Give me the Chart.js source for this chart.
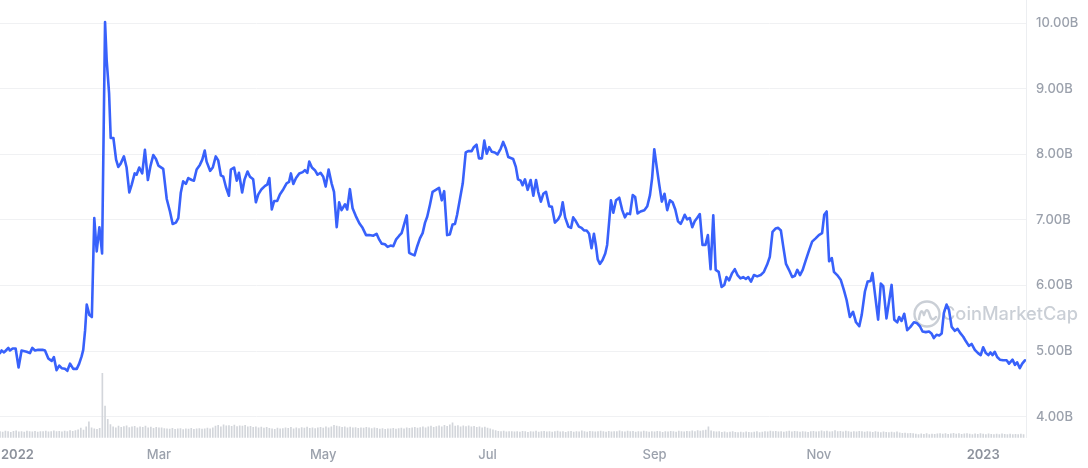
<!DOCTYPE html>
<html>
<head>
<meta charset="utf-8">
<script src="https://cdn.jsdelivr.net/npm/chart.js@4.4.1/dist/chart.umd.min.js"></script>
<style>
html,body{margin:0;padding:0;background:#fff;}
#wrap{width:1088px;height:468px;position:relative;}
</style>
</head>
<body>
<div id="wrap"><canvas id="c"></canvas></div>
<script>
// Days counted from 1 Jan 2022
const xTickDays = [0, 59, 120, 181, 243, 304, 365];
const xTickLabels = ['2022', 'Mar', 'May', 'Jul', 'Sep', 'Nov', '2023'];
const yTickValues = [4, 5, 6, 7, 8, 9, 10];
const yTickLabels = ['4.00B', '5.00B', '6.00B', '7.00B', '8.00B', '9.00B', '10.00B'];

// Market cap (billions USD): day offsets and values
const capDays = [
  0,0.6,1.5,2.2,3.1,3.7,4.7,5.8,6.9,8.0,
  9.9,11.1,12.0,13.0,14.2,15.8,16.7,17.9,19.2,20.0,
  21.0,22.0,22.9,24.1,25.0,26.0,27.2,28.5,29.4,30.3,
  30.9,31.6,32.2,33.2,34.1,35.0,35.9,36.9,37.9,39.0,
  39.6,40.5,41.1,42.1,43.1,43.9,44.8,46.0,47.0,48.0,
  48.9,50.0,50.7,51.7,52.8,53.8,54.9,55.9,56.9,57.9,
  58.8,60.6,61.9,63.1,64.1,
  65.3,66.2,67.1,68.0,69.0,69.9,71.2,72.0,73.0,74.2,
  75.1,76.0,76.7,78.0,79.0,80.1,81.0,82.0,82.9,83.9,
  85.0,85.7,86.9,87.9,88.7,89.9,90.8,91.9,92.8,94.0,
  95.0,95.9,97.1,98.4,99.2,100.0,100.9,101.8,102.9,103.9,
  105.2,106.4,107.3,108.0,108.9,109.9,111.1,112.4,113.2,114.1,
  114.8,115.8,116.9,117.9,119.0,120.0,120.9,122.0,123.1,124.0,
  125.0,125.9,126.8,
  128.1,128.9,129.9,130.9,132.1,133.4,134.6,135.9,137.1,138.6,
  139.8,140.8,141.7,142.9,143.9,145.0,146.0,147.0,148.2,149.1,
  150.0,151.0,151.9,152.8,153.9,154.9,155.9,156.9,157.8,158.6,
  159.6,160.6,161.8,163.0,164.0,164.9,166.0,167.0,168.0,168.9,
  169.7,170.7,171.8,172.9,173.8,175.1,175.9,176.9,177.8,178.9,
  179.8,180.7,181.6,182.6,183.7,184.7,185.9,186.8,187.8,188.7,
  190.5,191.5,192.3,193.3,194.0,194.9,195.9,197.0,198.0,199.0,
  199.8,200.8,201.7,202.7,203.9,204.9,206.0,207.2,208.1,208.9,
  209.8,211.0,212.0,212.8,213.8,214.9,215.9,216.8,217.8,218.7,
  219.6,220.5,221.2,221.9,222.7,223.7,224.7,225.4,226.2,226.8,
  227.7,228.7,229.9,231.0,232.0,232.8,233.9,234.9,235.8,236.7,
  237.8,239.2,240.3,241.3,242.1,242.9,243.8,244.7,245.7,246.7,
  247.7,248.7,249.7,250.7,251.7,252.7,
  253.4,254.2,255.1,256.1,257.0,257.9,258.8,259.8,260.8,261.9,
  262.8,263.8,264.8,265.7,266.8,267.9,268.9,269.7,270.7,271.8,
  272.8,273.8,274.9,275.9,276.9,277.8,278.8,279.9,281.1,282.4,
  283.6,284.8,285.8,286.8,287.9,288.9,289.9,290.8,291.8,292.9,
  294.1,295.1,296.0,297.0,298.0,299.1,300.3,301.5,302.8,304.0,
  305.2,306.0,306.9,307.8,308.8,309.6,310.8,312.1,313.3,314.3,
  315.5,
  316.7,317.8,319.0,319.9,321.1,322.1,323.2,323.9,324.8,326.0,
  327.0,327.9,329.1,331.0,332.0,333.1,333.8,334.7,335.7,336.8,
  338.0,339.3,340.3,341.5,342.5,343.7,344.9,345.8,346.7,347.7,
  348.7,349.6,350.4,351.4,352.3,353.3,354.5,355.5,356.6,357.6,
  358.6,359.7,360.7,361.9,363.1,364.1,365.0,366.0,366.9,367.7,
  368.5,369.3,370.2,371.2,372.4,373.7,374.6,375.9,376.8,377.6,
  378.6,379.5,380.5
];
const capValues = [
  4.97,5.01,4.98,5.01,5.05,5.01,5.04,5.04,4.75,5.01,
  4.99,4.97,5.05,5.01,5.02,5.02,5.01,4.89,4.85,4.91,
  4.71,4.78,4.74,4.73,4.70,4.81,4.73,4.73,4.81,4.92,
  5.02,5.32,5.71,5.55,5.52,7.03,6.52,6.89,6.49,10.02,
  9.44,8.93,8.25,8.25,7.92,7.81,7.86,7.97,7.80,7.42,
  7.54,7.71,7.69,7.80,7.71,8.07,7.61,7.83,7.99,7.93,
  7.83,7.78,7.32,7.13,6.94,
  6.96,7.03,7.41,7.59,7.55,7.64,7.61,7.60,7.77,7.84,
  7.92,8.06,7.89,7.75,7.80,7.97,7.91,7.68,7.66,7.50,
  7.37,7.77,7.80,7.60,7.72,7.42,7.62,7.74,7.66,7.62,
  7.27,7.39,7.47,7.52,7.54,7.64,7.16,7.29,7.29,7.39,
  7.47,7.56,7.58,7.71,7.55,7.64,7.71,7.73,7.76,7.72,
  7.89,7.80,7.76,7.69,7.72,7.66,7.51,7.77,7.56,7.43,
  6.89,7.27,7.15,
  7.24,7.16,7.47,7.18,7.06,6.95,6.88,6.77,6.77,6.76,
  6.79,6.70,6.64,6.63,6.59,6.61,6.60,6.70,6.76,6.80,
  6.93,7.07,6.50,6.48,6.46,6.60,6.72,6.80,6.96,7.05,
  7.23,7.43,7.46,7.49,7.30,7.44,6.77,6.78,6.93,6.94,
  7.08,7.31,7.56,8.03,8.05,8.05,8.11,8.15,7.94,7.94,
  8.21,8.01,8.11,8.04,8.03,8.00,8.09,8.19,8.09,7.96,
  7.93,7.81,7.62,7.60,7.53,7.62,7.46,7.61,7.37,7.61,
  7.43,7.28,7.40,7.43,7.21,7.20,6.96,7.01,7.08,7.27,
  7.04,6.90,6.88,7.04,6.98,6.90,6.88,6.84,6.84,6.79,
  6.57,6.79,6.62,6.40,6.33,6.39,6.49,6.62,7.00,7.30,
  7.11,7.30,7.34,7.15,7.04,7.10,7.09,7.38,7.35,7.10,
  7.13,7.15,7.21,7.38,7.64,8.08,7.81,7.55,7.28,7.40,
  7.15,7.30,7.27,7.16,6.98,6.94,
  7.00,7.08,7.01,7.03,6.89,6.98,7.03,7.09,6.62,6.62,
  6.77,6.25,7.07,6.24,6.21,5.98,6.01,6.13,6.08,6.19,
  6.25,6.16,6.11,6.13,6.10,6.13,6.06,6.16,6.14,6.16,
  6.21,6.32,6.44,6.82,6.87,6.88,6.84,6.59,6.33,6.24,
  6.13,6.15,6.24,6.16,6.24,6.38,6.53,6.67,6.72,6.77,
  6.80,7.08,7.13,6.37,6.42,6.21,6.16,6.09,5.93,5.78,
  5.52,
  5.60,5.44,5.38,5.55,5.91,6.06,6.07,6.19,5.88,5.48,
  6.03,5.99,5.50,6.01,5.48,5.44,5.52,5.46,5.57,5.32,
  5.37,5.44,5.43,5.38,5.30,5.29,5.30,5.27,5.20,5.25,
  5.24,5.27,5.58,5.71,5.63,5.37,5.31,5.34,5.27,5.22,
  5.15,5.08,5.11,5.02,4.97,4.94,5.06,4.97,4.94,4.98,
  4.94,4.99,4.91,4.87,4.86,4.86,4.81,4.87,4.79,4.83,
  4.74,4.81,4.86
];

// Daily volume (billions USD, estimated), one value per day from day 0
const volumeValues = [
  0.30,0.28,0.33,0.30,0.27,0.32,0.34,0.29,0.31,0.28,0.33,0.30,0.29,0.32,0.28,0.31,0.30,0.33,0.29,0.31,
  0.34,0.30,0.32,0.29,0.33,0.31,0.35,0.32,0.36,
  0.40,0.48,0.38,0.55,0.80,0.50,0.45,0.42,0.47,
  3.22,1.58,0.92,0.66,
  0.55,0.50,0.58,0.52,0.56,0.60,0.51,0.54,0.57,0.49,0.55,0.52,0.58,0.50,0.53,0.47,0.52,0.49,0.50,0.46,
  0.45,0.43,0.47,0.42,0.44,0.46,0.41,0.45,0.43,0.47,0.42,0.44,0.46,0.43,0.45,0.48,0.44,0.50,
  0.58,0.62,0.55,0.64,0.59,0.61,0.57,0.63,0.56,0.60,0.58,0.62,0.55,0.57,0.52,0.55,0.50,0.53,0.48,0.52,0.47,
  0.45,0.42,0.48,0.44,0.46,0.50,0.47,0.52,0.45,0.49,0.46,0.51,0.48,0.53,0.47,0.50,0.46,0.49,0.52,0.48,0.55,0.50,0.54,0.62,0.58,
  0.56,0.52,0.55,0.50,0.53,0.49,0.51,0.47,0.50,0.48,0.52,0.49,0.46,0.50,0.47,
  0.43,0.46,0.42,0.45,0.44,0.47,0.43,0.46,0.48,0.45,0.50,0.47,0.49,0.52,0.48,0.51,0.55,0.50,
  0.54,0.58,0.52,0.56,0.60,0.55,0.62,0.57,0.64,0.75,0.58,0.61,0.55,0.59,0.56,0.60,0.54,0.57,0.52,0.55,0.50,0.53,
  0.48,0.45,0.40,0.35,0.32,0.30,0.33,0.29,0.31,0.30,
  0.29,0.31,0.28,0.32,0.30,0.27,0.31,0.29,0.33,0.28,
  0.30,0.32,0.29,0.31,0.28,0.30,0.33,0.29,0.31,0.27,
  0.30,0.32,0.28,0.31,0.29,0.34,0.30,0.28,0.32,0.30,
  0.29,0.31,0.33,0.30,0.28,0.32,0.29,0.31,0.30,0.34,
  0.31,0.29,0.33,0.30,0.32,0.28,0.31,0.29,0.33,0.30,
  0.28,0.31,0.29,0.32,0.30,0.27,0.31,0.29,0.32,0.30,
  0.28,0.33,0.31,0.29,0.32,0.30,0.34,0.31,0.36,0.33,
  0.35,0.38,
  0.55,
  0.34,0.31,0.29,0.30,0.27,0.29,0.26,0.28,0.30,0.27,
  0.25,0.28,0.26,0.29,0.27,0.25,0.28,0.30,0.26,0.28,
  0.31,0.29,0.33,0.30,0.32,0.29,0.31,0.28,0.30,0.33,
  0.29,0.32,0.30,0.28,0.31,0.29,0.27,0.30,0.32,0.29,
  0.31,0.34,0.30,0.33,0.29,0.31,0.35,0.30,0.32,0.29,
  0.33,0.30,0.28,0.31,0.29,0.32,0.30,0.28,0.31,0.29,
  0.27,0.30,0.28,0.26,0.29,0.27,0.25,0.28,0.26,0.29,
  0.24,0.22,0.23,0.21,0.22,0.20,
  0.18,0.16,0.19,0.17,0.20,0.16,0.18,0.17,0.19,0.21,
  0.18,0.20,0.17,0.19,0.22,0.18,0.20,0.17,0.19,0.21,
  0.18,0.16,0.19,0.17,0.20,0.18,0.16,0.19,0.17,0.15,
  0.18,0.16,0.19,0.17,0.15,0.18,0.16,0.17,0.15,0.18,
  0.16
];

const LINE_COLOR = '#3861fb';
const TICK_COLOR = '#9ba1ac';
const GRID_COLOR = '#f0f1f3';

const capData = capDays.map((d, i) => ({ x: d, y: capValues[i] }));
const volData = volumeValues.map((v, i) => ({ x: i, y: v }));

const xLabelsPlugin = {
  id: 'xLabels',
  afterDraw(chart) {
    const ctx = chart.ctx;
    const xs = chart.scales.x;
    const area = chart.chartArea;
    ctx.save();
    ctx.textBaseline = 'middle';
    ctx.textAlign = 'left';
    xTickDays.forEach((d, i) => {
      const label = xTickLabels[i];
      const isYear = /^\d{4}$/.test(label);
      ctx.font = (isYear ? '600 ' : '500 ') + '13px Inter, "Noto Sans", sans-serif';
      ctx.fillStyle = isYear ? '#8d929c' : TICK_COLOR;
      const w = ctx.measureText(label).width;
      let left = xs.getPixelForValue(d) - w / 2;
      if (left < 1) left = 1;
      if (left + w > area.right) left = area.right - w;
      ctx.fillText(label, left, area.bottom + 17.5);
    });
    ctx.restore();
  }
};

const watermarkPlugin = {
  id: 'watermark',
  beforeDatasetsDraw(chart) {
    const ctx = chart.ctx;
    const area = chart.chartArea;
    const cx = area.right - 99, cy = area.top + 314;
    ctx.save();
    ctx.strokeStyle = 'rgba(180,186,197,0.7)';
    ctx.fillStyle = 'rgba(180,186,197,0.7)';
    ctx.lineWidth = 2.4;
    ctx.lineCap = 'round';
    ctx.lineJoin = 'round';
    ctx.beginPath();
    ctx.arc(cx, cy, 12.5, 0, Math.PI * 2);
    ctx.stroke();
    ctx.beginPath();
    ctx.moveTo(cx - 8, cy + 5);
    ctx.quadraticCurveTo(cx - 6, cy - 8, cx - 3, cy + 1);
    ctx.quadraticCurveTo(cx, cy - 9, cx + 3, cy + 2);
    ctx.quadraticCurveTo(cx + 5, cy + 8, cx + 9, cy + 3);
    ctx.stroke();
    const txt = 'CoinMarketCap';
    let fs = 20;
    ctx.font = '500 ' + fs + 'px Inter, "Noto Sans", sans-serif';
    const w = ctx.measureText(txt).width;
    fs = fs * 136 / w;
    ctx.font = '500 ' + fs.toFixed(2) + 'px Inter, "Noto Sans", sans-serif';
    ctx.textBaseline = 'middle';
    ctx.textAlign = 'left';
    ctx.fillText(txt, cx + 15, cy + 1);
    ctx.restore();
  }
};

new Chart(document.getElementById('c'), {
  type: 'line',
  data: {
    datasets: [
      {
        type: 'line',
        data: capData,
        borderColor: LINE_COLOR,
        borderWidth: 2.6,
        pointRadius: 0,
        tension: 0,
        fill: false,
        yAxisID: 'y',
        order: 1,
        borderJoinStyle: 'round',
        borderCapStyle: 'round'
      },
      {
        type: 'bar',
        data: volData,
        backgroundColor: '#d3d6db',
        barThickness: 1,
        yAxisID: 'yv',
        order: 2
      }
    ]
  },
  options: {
    responsive: true,
    maintainAspectRatio: false,
    animation: false,
    layout: { padding: { left: 0, right: 0, top: 0, bottom: 30.3 } },
    plugins: { legend: { display: false }, tooltip: { enabled: false } },
    scales: {
      x: {
        type: 'linear',
        min: 0,
        max: 380.9,
        offset: false,
        display: false
      },
      y: {
        position: 'right',
        min: 3.68,
        max: 10.355,
        afterBuildTicks(scale) {
          scale.ticks = yTickValues.map(v => ({ value: v }));
        },
        afterFit(scale) {
          scale.width = 62;
          scale.paddingTop = 0;
          scale.paddingBottom = 0;
        },
        ticks: {
          padding: 10,
          color: TICK_COLOR,
          font: { family: 'Inter, "Noto Sans", sans-serif', size: 13, weight: '500' },
          callback(value) {
            const i = yTickValues.indexOf(value);
            return i >= 0 ? yTickLabels[i] : '';
          }
        },
        grid: { color: GRID_COLOR, drawTicks: false, lineWidth: 1 },
        border: { display: true, color: '#eceef1', width: 1 }
      },
      yv: {
        display: false,
        min: 0,
        max: 21.9
      }
    }
  },
  plugins: [watermarkPlugin, xLabelsPlugin]
});
</script>
</body>
</html>
